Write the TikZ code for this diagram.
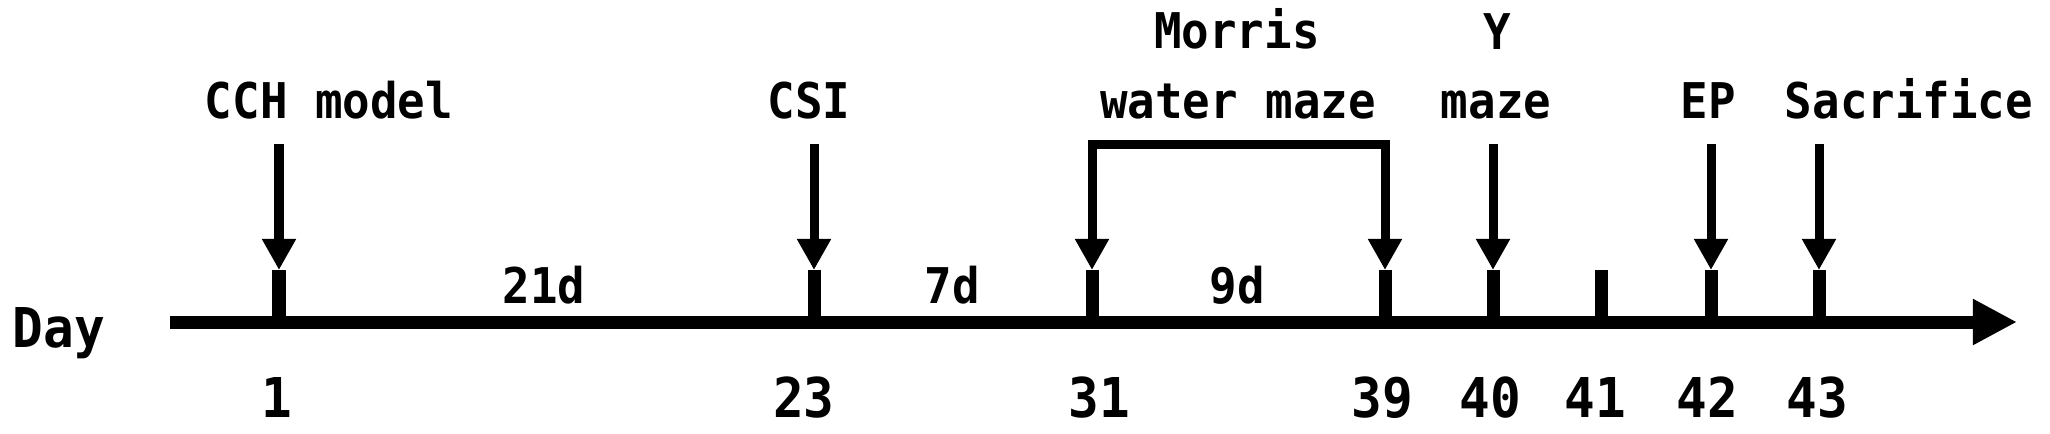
\documentclass[tikz,border=0pt]{standalone}
\usepackage{fontspec}
\setmainfont[FakeStretch=0.93]{DejaVu Sans Mono}
\usetikzlibrary{arrows.meta}
\begin{document}
\begin{tikzpicture}[x=0.01cm,y=-0.01cm,
  lbl/.style={anchor=base,inner sep=0,font=\fontsize{14}{16}\selectfont\bfseries},
  big/.style={anchor=base,inner sep=0,font=\fontsize{15.6}{18}\selectfont\bfseries},
  axisline/.style={line width=0.13cm,-{Triangle[length=0.44cm,width=0.43cm]}},
  tickmark/.style={line width=0.13cm},
  evarrow/.style={line width=0.09cm,line join=miter,-{Triangle[length=0.31cm,width=0.32cm]}},
  ]
\useasboundingbox (0,0) rectangle (2050,433);
% axis
\coordinate (axstart) at (170,322);
\coordinate (axend) at (2017,322);
\draw[axisline] (axstart) -- (axend);
\node[big] (day) at (59,347) {Day};
% ticks
\foreach \n/\x in {1/279,23/814,31/1092,39/1385,40/1493,41/1601,42/1711,43/1819} {
  \coordinate (base\n) at (\x,322);
  \coordinate (top\n) at (\x,270);
  \draw[tickmark] (base\n) -- (top\n);
}
% day numbers
\foreach \n/\x in {1/277,23/804,31/1099,39/1382,40/1490,41/1595,42/1707,43/1817} {
  \node[big] (num\n) at (\x,417) {\n};
}
% interval labels
\node[lbl] (d21) at (544,303) {21d};
\node[lbl] (d7) at (952,303) {7d};
\node[lbl] (d9) at (1237,303) {9d};
% event labels
\node[lbl] (cch) at (329,118) {CCH model};
\node[lbl] (csi) at (809,118) {CSI};
\node[lbl] (morris) at (1237,48) {Morris};
\node[lbl] (water) at (1238,118) {water maze};
\node[lbl] (ytxt) at (1497,49) {Y};
\node[lbl] (ymaze) at (1496,118) {maze};
\node[lbl] (ep) at (1708,118) {EP};
\node[lbl] (sac) at (1909,118) {Sacrifice};
% event arrows
\coordinate (s1) at (279,144);
\coordinate (s23) at (814,144);
\coordinate (s40) at (1493,144);
\coordinate (s42) at (1711,144);
\coordinate (s43) at (1819,144);
\foreach \n in {1,23,40,42,43} {
  \draw[evarrow] (s\n) -- (top\n);
}
% Morris bracket
\coordinate (b31) at (1092,144);
\coordinate (b39) at (1385,144);
\draw[evarrow,{Triangle[length=0.31cm,width=0.32cm]}-{Triangle[length=0.31cm,width=0.32cm]}] (top31) -- (b31) -- (b39) -- (top39);
\end{tikzpicture}
\end{document}
